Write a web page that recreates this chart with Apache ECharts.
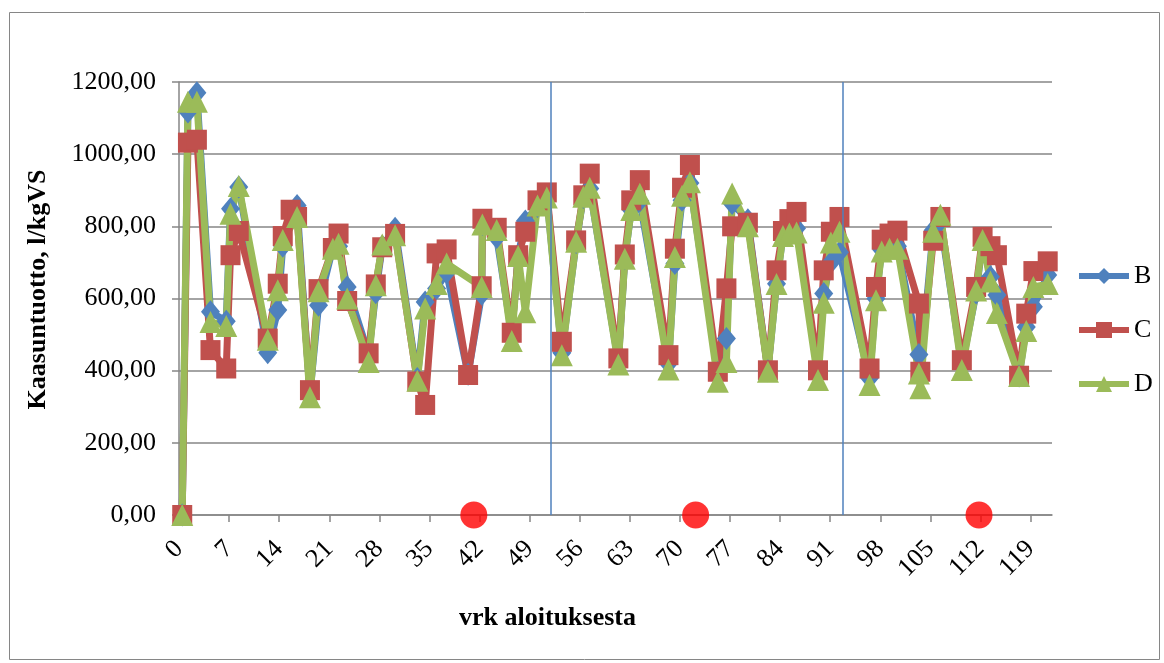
<!DOCTYPE html>
<html>
<head>
<meta charset="utf-8">
<title>Kaasuntuotto</title>
<script src="https://cdn.jsdelivr.net/npm/echarts@6/dist/echarts.min.js"></script>
<style>
  html, body { margin: 0; padding: 0; background: #ffffff; }
  #chart { width: 1164px; height: 663px; }
</style>
</head>
<body>
<div id="chart"></div>
<script>
// Measurement days (vrk aloituksesta) and gas yield per reactor, l/kgVS.
const days = [
  0.45, 1.25, 2.5, 4.4, 6.6, 7.2, 8.35, 12.4, 13.8, 14.5,
  15.6, 16.5, 18.3, 19.5, 21.5, 22.3, 23.5, 26.5, 27.5, 28.4,
  30.2, 33.3, 34.4, 36.0, 37.4, 40.4, 42.3, 42.4, 44.4, 46.5,
  47.4, 48.4, 50.1, 51.4, 53.5, 55.5, 56.5, 57.4, 61.4, 62.3,
  63.2, 64.4, 68.4, 69.3, 70.3, 71.4, 75.3, 76.5, 77.3, 79.5,
  82.3, 83.5, 84.4, 85.3, 86.3, 89.3, 90.1, 91.1, 92.3, 96.5,
  97.4, 98.2, 99.3, 100.4, 103.4, 103.6, 105.4, 106.4, 109.4, 111.4,
  112.3, 113.4, 114.3, 117.4, 118.4, 119.4, 121.4
];
const seriesB = [
  0, 1117, 1170, 563, 537, 849, 909, 450, 568, 745,
  null, 858, 335, 581, 740, 745, 632, 445, 616, 745,
  795, 378, 590, 628, 672, 390, 612, 805, 769, 500,
  720, 815, 855, 885, 450, 755, 880, 905, 425, 710,
  845, 870, 420, 697, 872, 920, 395, 489, 863, 818,
  400, 641, 775, 785, 795, 395, 614, 700, 728, 380,
  600, 735, 740, 745, 445, 400, 789, 815, 415, 615,
  760, 660, 610, 385, 521, 577, 665
];
const seriesC = [
  0, 1032, 1040, 457, 406, 720, 787, 489, 641, 773,
  846, 826, 346, 626, 740, 780, 593, 448, 639, 742,
  779, 370, 305, 725, 736, 388, 634, 821, 796, 505,
  720, 785, 872, 894, 480, 761, 886, 946, 434, 722,
  872, 928, 443, 738, 907, 970, 397, 628, 800, 810,
  401, 678, 787, 820, 840, 401, 678, 785, 826, 406,
  632, 763, 780, 788, 586, 397, 760, 826, 429, 632,
  771, 745, 720, 386, 558, 676, 703
];
const seriesD = [
  0, 1145, 1145, 535, 524, 835, 912, 486, 623, 762,
  null, 826, 326, 620, 738, 752, 600, 424, 637, 750,
  775, 372, 572, 640, 697, null, 632, 805, 790, 482,
  718, 562, 858, 880, 443, 757, 882, 907, 417, 710,
  845, 890, 403, 715, 885, 922, 369, 424, 891, 800,
  397, 640, 773, 780, 783, 374, 588, 755, 785, 360,
  595, 730, 738, 738, 392, 351, 785, 832, 402, 622,
  762, 647, 560, 385, 510, 632, 640
];
// Day labels on the horizontal axis.
const xTickLabels = [0, 7, 14, 21, 28, 35, 42, 49, 56, 63, 70, 77, 84, 91, 98, 105, 112, 119];
// Vertical divider lines and red event markers (days).
const dividerDays = [51.9, 92.7];
const eventDays = [41.2, 72.2, 111.8];

const serif = "'Liberation Serif', 'Times New Roman', serif";
const toPairs = (vals) => days.map((d, i) => [d, vals[i]]).filter(p => p[1] !== null);

const chart = echarts.init(document.getElementById('chart'), null, { renderer: 'canvas' });

const lineSeries = (name, vals, color, symbol, size) => ({
  name: name,
  type: 'line',
  data: toPairs(vals),
  symbol: symbol,
  symbolSize: size,
  showAllSymbol: true,
  connectNulls: true,
  lineStyle: { color: color, width: 7 },
  itemStyle: { color: color, borderWidth: 0 },
  emphasis: { disabled: true },
  animation: false
});

chart.setOption({
  backgroundColor: '#ffffff',
  animation: false,
  graphic: [{
    type: 'rect',
    silent: true,
    z: -10,
    shape: { x: 9.5, y: 12.5, width: 1150, height: 647 },
    style: { fill: 'none', stroke: '#868686', lineWidth: 1 }
  }],
  grid: { left: 179, top: 82, width: 873, height: 433, containLabel: false },
  legend: {
    data: ['B', 'C', 'D'],
    orient: 'vertical',
    left: 1071,
    top: 258,
    itemWidth: 50,
    itemHeight: 20,
    itemGap: 28,
    lineStyle: { width: 6 },
    textStyle: { fontFamily: serif, fontSize: 26, color: '#000000', lineHeight: 26 }
  },
  xAxis: {
    type: 'value',
    min: 0,
    max: 122,
    interval: 7,
    name: 'vrk aloituksesta',
    nameLocation: 'middle',
    nameGap: 90,
    nameTextStyle: { fontFamily: serif, fontSize: 26, fontWeight: 'bold', color: '#000000', padding: [0, 136, 0, 0] },
    axisLine: { show: true, lineStyle: { color: '#868686', width: 1.5 } },
    axisTick: { show: true, length: 7, lineStyle: { color: '#868686', width: 1.5 }, customValues: xTickLabels },
    axisLabel: {
      customValues: xTickLabels,
      rotate: 45,
      margin: 30,
      fontFamily: serif,
      fontSize: 26,
      color: '#000000'
    },
    splitLine: { show: false }
  },
  yAxis: {
    type: 'value',
    min: 0,
    max: 1200,
    interval: 200,
    name: 'Kaasuntuotto, l/kgVS',
    nameLocation: 'middle',
    nameGap: 128,
    nameRotate: 90,
    nameTextStyle: { fontFamily: serif, fontSize: 26, fontWeight: 'bold', color: '#000000', padding: [0, 0, 0, 18] },
    axisLine: { show: true, lineStyle: { color: '#868686', width: 1.5 } },
    axisTick: { show: true, length: 7, lineStyle: { color: '#868686', width: 1.5 } },
    axisLabel: {
      margin: 23,
      fontFamily: serif,
      fontSize: 26,
      color: '#000000',
      formatter: (v) => v.toFixed(2).replace('.', ',')
    },
    splitLine: { show: true, lineStyle: { color: '#868686', width: 1.5 } }
  },
  series: [
    lineSeries('B', seriesB, '#4F81BD', 'diamond', [19, 23]),
    lineSeries('C', seriesC, '#C0504D', 'rect', 20),
    lineSeries('D', seriesD, '#9BBB59', 'triangle', 22),
    {
      name: 'events',
      type: 'scatter',
      data: eventDays.map(d => [d, 0]),
      symbol: 'circle',
      symbolSize: 27,
      itemStyle: { color: '#FF0000' },
      z: 5,
      clip: false,
      emphasis: { disabled: true },
      markLine: {
        silent: true,
        symbol: 'none',
        label: { show: false },
        lineStyle: { color: '#4F81BD', width: 1.5, type: 'solid' },
        emphasis: { disabled: true },
        data: dividerDays.map(d => ({ xAxis: d }))
      }
    }
  ]
});
</script>
</body>
</html>
